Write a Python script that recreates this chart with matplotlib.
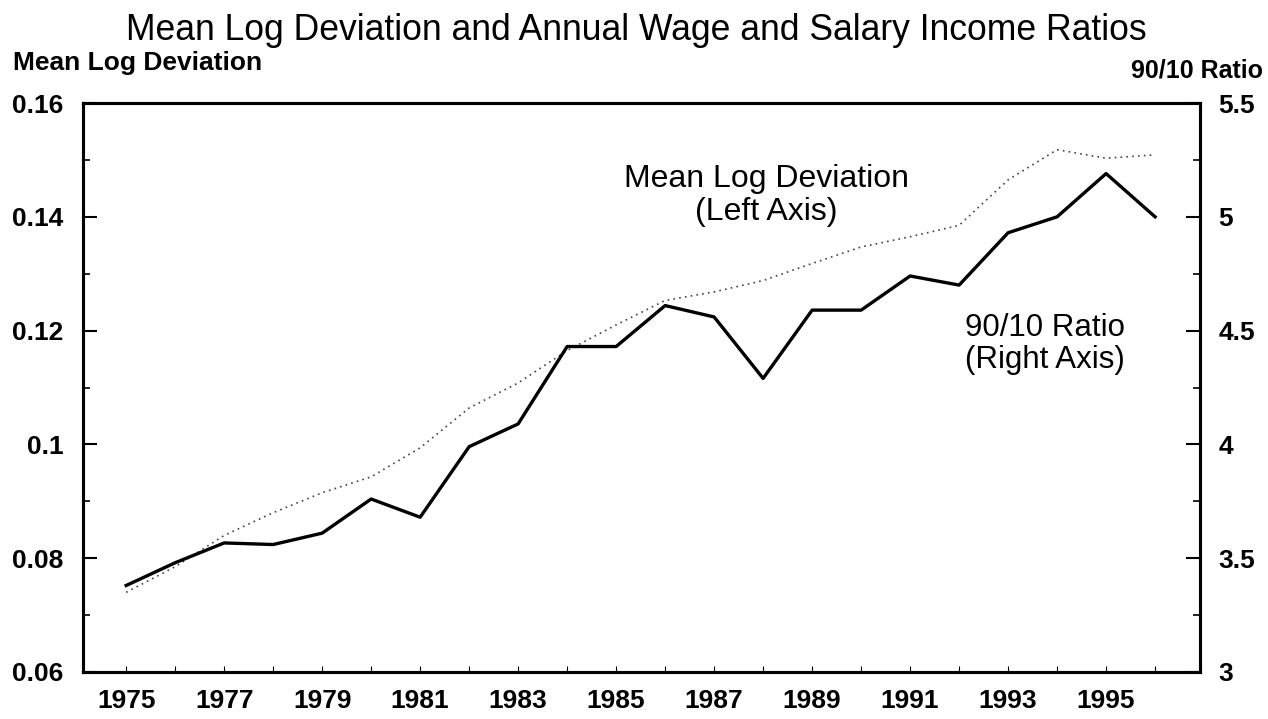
import matplotlib.pyplot as plt
from matplotlib.ticker import MultipleLocator, FixedLocator

plt.rcParams['font.family'] = ['Liberation Sans', 'DejaVu Sans']

# данные
years = list(range(1975, 1997))
mld = [0.074, 0.0785, 0.084, 0.088, 0.0915, 0.0943, 0.0994, 0.1064, 0.1108,
       0.1165, 0.121, 0.1253, 0.1268, 0.1288, 0.1318, 0.1347, 0.1365, 0.1385,
       0.1465, 0.1518, 0.1503, 0.1509]
ratio_90_10 = [3.38, 3.48, 3.567, 3.56, 3.61, 3.76, 3.68, 3.99, 4.09, 4.43,
               4.43, 4.61, 4.56, 4.29, 4.59, 4.59, 4.74, 4.70, 4.93, 5.0,
               5.19, 5.0]
left_ticks = [0.06, 0.08, 0.10, 0.12, 0.14, 0.16]
left_labels = ['0.06', '0.08', '0.1', '0.12', '0.14', '0.16']
right_ticks = [3, 3.5, 4, 4.5, 5, 5.5]
right_labels = ['3', '3.5', '4', '4.5', '5', '5.5']
year_labels = list(range(1975, 1997, 2))

fig = plt.figure(figsize=(12.68, 7.19), dpi=100)
ax = fig.add_axes([0.0655, 0.0654, 0.881, 0.7913])
ax2 = ax.twinx()

ax.plot(years, mld, color='#444444', linestyle=(0, (1, 2.5)), linewidth=1.2)
ax2.plot(years, ratio_90_10, color='black', linewidth=2.4)

ax.set_xlim(1974.12, 1996.92)
ax.set_ylim(0.06, 0.16)
ax2.set_ylim(3, 5.5)

ax.set_yticks(left_ticks)
ax.set_yticklabels(left_labels)
ax.yaxis.set_minor_locator(MultipleLocator(0.01))
ax2.set_yticks(right_ticks)
ax2.set_yticklabels(right_labels)
ax2.yaxis.set_minor_locator(MultipleLocator(0.25))
ax.set_xticks(year_labels)
ax.set_xticklabels([str(y) for y in year_labels])
ax.xaxis.set_minor_locator(FixedLocator(years))

for a in (ax, ax2):
    for s in a.spines.values():
        s.set_linewidth(2.2)
ax.tick_params(axis='y', direction='in', length=10, width=1.5, labelsize=19, pad=14)
ax.tick_params(axis='y', which='minor', direction='in', length=5, width=1.2)
ax2.tick_params(axis='y', direction='in', length=10, width=1.5, labelsize=19, pad=13)
ax2.tick_params(axis='y', which='minor', direction='in', length=5, width=1.2)
ax.tick_params(axis='x', which='both', direction='in', length=4, width=0.8, labelsize=19, pad=12)
for lab in ax.get_xticklabels() + ax.get_yticklabels() + ax2.get_yticklabels():
    lab.set_fontweight('bold')

fig.text(0.502, 0.957, 'Mean Log Deviation and Annual Wage and Salary Income Ratios',
         ha='center', va='center', fontsize=25.6)
fig.text(0.010, 0.912, 'Mean Log Deviation', ha='left', va='center', fontsize=19, fontweight='bold')
fig.text(0.996, 0.902, '90/10 Ratio', ha='right', va='center', fontsize=18, fontweight='bold')

ax.text(1988.06, 0.1437, 'Mean Log Deviation\n(Left Axis)', ha='center', va='center',
        fontsize=23, linespacing=1.15)
ax.text(1993.76, 0.1176, '90/10 Ratio\n(Right Axis)', ha='center', va='center',
        fontsize=22.5, linespacing=1.1)

fig.savefig('out.png', dpi=100)
